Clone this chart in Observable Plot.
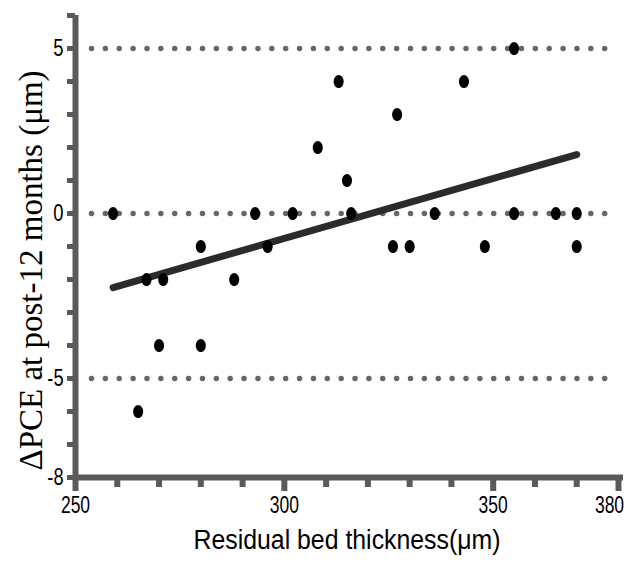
<!DOCTYPE html>
<html>
<head>
<meta charset="utf-8">
<script src="https://cdn.jsdelivr.net/npm/d3@7"></script>
<script src="https://cdn.jsdelivr.net/npm/@observablehq/plot@0.6"></script>
<style>
  html, body { margin: 0; padding: 0; background: #fff; }
  #chart svg { display: block; }
</style>
</head>
<body>
<div id="chart"></div>
<script>
// Data
const thickness = [259, 265, 267, 270, 271, 280, 280, 288, 293, 296, 302, 308, 313, 315, 316, 326, 327, 330, 336, 343, 348, 355, 355, 365, 370, 370];
const deltaPCE  = [0,   -6,  -2,  -4,  -2,  -1,  -4,  -2,  0,   -1,  0,   2,   4,   1,   0,   -1,  3,   -1,  0,   4,   -1,  5,   0,   0,   0,   -1];

const xDomain = [250, 380];
const yDomain = [-8, 6];
const xMajorTicks = [250, 300, 350, 380];
const xMinorTicks = [260, 270, 280, 290, 310, 320, 330, 340, 360, 370];
const yTicks = [6, 5, 4, 3, 2, 1, 0, -1, -2, -3, -4, -5, -6, -7, -8];
const yTickLabels = [5, 0, -5, -8];
const refLines = [5, 0, -5];
const xTitle = "Residual bed thickness(\u03bcm)";
const yTitle = "\u0394PCE at post-12 months (\u03bcm)";

const data = thickness.map((x, i) => ({x, y: deltaPCE[i]}));

const axisColor = "#5a5a5a";
const sans = "'Liberation Sans', Arial, sans-serif";

// elliptical dot symbol
const ellipse = {
  draw(ctx, size) {
    const r = Math.sqrt(size / Math.PI);
    const rx = r * 0.76, ry = r;
    const k = 0.5523;
    ctx.moveTo(rx, 0);
    ctx.bezierCurveTo(rx, ry * k, rx * k, ry, 0, ry);
    ctx.bezierCurveTo(-rx * k, ry, -rx, ry * k, -rx, 0);
    ctx.bezierCurveTo(-rx, -ry * k, -rx * k, -ry, 0, -ry);
    ctx.bezierCurveTo(rx * k, -ry, rx, -ry * k, rx, 0);
    ctx.closePath();
  }
};

const lastX = xMajorTicks[xMajorTicks.length - 1];

const chart = Plot.plot({
  width: 634,
  height: 563,
  marginLeft: 75,
  marginRight: 16,
  marginTop: 15,
  marginBottom: 86,
  x: {domain: xDomain, axis: null},
  y: {domain: yDomain, axis: null},
  style: {background: "#fff"},
  marks: [
    // dotted reference lines
    Plot.ruleY(refLines, {x1: xDomain[0], x2: xDomain[1], stroke: "#666", strokeWidth: 5.5,
      strokeDasharray: "0 13.87", strokeLinecap: "round", insetLeft: 16.5, insetRight: 13}),
    // y ticks
    Plot.ruleY(yTicks, {x1: xDomain[0], x2: xDomain[0], stroke: axisColor, strokeWidth: 5, insetLeft: -8}),
    // x ticks
    Plot.ruleX(xMinorTicks, {y1: yDomain[0], y2: yDomain[0], stroke: axisColor, strokeWidth: 6, insetBottom: -10}),
    Plot.ruleX(xMajorTicks, {y1: yDomain[0], y2: yDomain[0], stroke: axisColor, strokeWidth: 6, insetBottom: -14}),
    // axis lines
    Plot.ruleX([xDomain[0]], {y1: yDomain[0], y2: yDomain[1], stroke: axisColor, strokeWidth: 6, insetTop: -2}),
    Plot.ruleY([yDomain[0]], {x1: xDomain[0], x2: xDomain[1], stroke: axisColor, strokeWidth: 6, insetRight: -5}),
    // tick labels
    Plot.text(yTickLabels, {x: xDomain[0], y: d => d, text: d => String(d), textAnchor: "end", dx: -12,
      fontSize: 24, fontFamily: sans, fill: "#000"}),
    Plot.text(xMajorTicks.filter(d => d !== lastX), {x: d => d, y: yDomain[0], text: d => String(d), dy: 28,
      fontSize: 23, fontFamily: sans, fill: "#000"}),
    Plot.text([lastX], {x: d => d, y: yDomain[0], text: d => String(d), dy: 28, dx: -9,
      fontSize: 23, fontFamily: sans, fill: "#000"}),
    // regression line
    Plot.linearRegressionY(data, {x: "x", y: "y", ci: 0, stroke: "#2b2b2b", strokeWidth: 7, strokeLinecap: "round"}),
    // points
    Plot.dot(data, {x: "x", y: "y", r: 6.6, symbol: ellipse, fill: "#000", stroke: "none"}),
    // axis titles
    Plot.text([xTitle], {frameAnchor: "bottom", textAnchor: "middle", dy: 71, fontSize: 27, fontFamily: sans, fill: "#000"}),
    Plot.text([yTitle], {frameAnchor: "left", textAnchor: "middle", rotate: -90, dx: -44, dy: 24, fontSize: 33,
      fontFamily: "'Liberation Serif', 'Times New Roman', serif", fill: "#000"})
  ]
});

document.getElementById("chart").appendChild(chart);

// condense the sans-serif texts to mimic the narrow typeface of the reference
const textGroups = chart.querySelectorAll('g[aria-label="text"]');
const condense = [0.76, 0.76, 0.76, 0.92, 1];
textGroups.forEach((g, gi) => {
  const f = condense[gi] ?? 1;
  if (f === 1) return;
  g.querySelectorAll("text").forEach(t => {
    const w = t.getComputedTextLength();
    t.setAttribute("textLength", (w * f).toFixed(1));
    t.setAttribute("lengthAdjust", "spacingAndGlyphs");
  });
});
</script>
</body>
</html>
